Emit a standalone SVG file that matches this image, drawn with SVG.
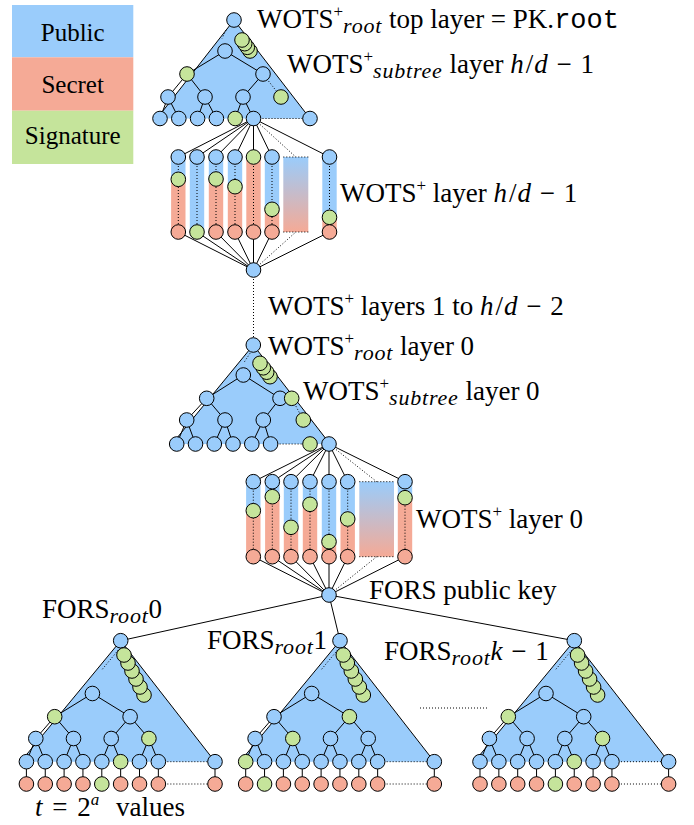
<svg xmlns="http://www.w3.org/2000/svg" width="694" height="825" viewBox="0 0 694 825">
<defs>
<linearGradient id="grad" x1="0" y1="0" x2="0" y2="1">
<stop offset="0" stop-color="#9ACCFB"/>
<stop offset="1" stop-color="#F5AA96"/>
</linearGradient>
<style>
.b{fill:#9ACCFB;stroke:#000;stroke-width:1}
.s{fill:#F5AA96;stroke:#000;stroke-width:1}
.g{fill:#C5E49B;stroke:#000;stroke-width:1}
.bb{fill:#9ACCFB}
.sb{fill:#F5AA96}
.gb{fill:#C5E49B}
.e{stroke:#000;stroke-width:1;fill:none}
.d{stroke:#000;stroke-width:1;stroke-dasharray:1 2;fill:none}
.tri{fill:#9ACCFB}
.t{font-family:"Liberation Serif","Times New Roman",serif;font-size:27px;fill:#000}
.sup{font-size:17px}
.sub{font-size:22px;font-style:italic;letter-spacing:0.8px}
.i{font-style:italic}
.m{font-family:"Liberation Mono",monospace}
.lg{font-family:"Liberation Serif","Times New Roman",serif;font-size:25px;text-anchor:middle}
</style>
</defs>
<rect width="694" height="825" fill="#fff"/>

<g id="legend">
<rect x="12" y="5" width="121.3" height="52.3" class="bb"/>
<rect x="12" y="57.3" width="121.3" height="53.4" class="sb"/>
<rect x="12" y="110.7" width="121.3" height="53.3" class="gb"/>
<text class="lg" x="72.7" y="41">Public</text>
<text class="lg" x="72.7" y="93">Secret</text>
<text class="lg" x="72.7" y="144">Signature</text>
</g>

<g id="triangles">
<polygon class="tri" points="234,20 157,118.5 310,118.5"/>
<polyline class="e" points="157,118.5 234,20 310,118.5"/>
<polygon class="tri" points="253.3,345 172,444 330,444"/>
<polyline class="e" points="172,444 253.3,345 330,444"/>
<polygon class="tri" points="120.7,640.7 20.7,761.7 215,761.7"/>
<polyline class="e" points="20.7,761.7 120.7,640.7 215,761.7"/>
<polygon class="tri" points="340,640.7 240,761.7 434.3,761.7"/>
<polyline class="e" points="240,761.7 340,640.7 434.3,761.7"/>
<polygon class="tri" points="574.3,640.7 474.3,761.7 668.6,761.7"/>
<polyline class="e" points="474.3,761.7 574.3,640.7 668.6,761.7"/>
</g>

<g id="chain-bars">
<rect class="bb" x="171.1" y="157" width="14.4" height="22.3"/><rect class="sb" x="171.1" y="179.3" width="14.4" height="52.7"/>
<rect class="bb" x="189.8" y="157" width="14.4" height="75"/>
<rect class="bb" x="208.8" y="157" width="14.4" height="22"/><rect class="sb" x="208.8" y="179" width="14.4" height="53"/>
<rect class="bb" x="227.8" y="157" width="14.4" height="29.7"/><rect class="sb" x="227.8" y="186.7" width="14.4" height="45.3"/>
<rect class="sb" x="246.3" y="157" width="14.4" height="75"/>
<rect class="bb" x="264.8" y="157" width="14.4" height="52.3"/><rect class="sb" x="264.8" y="209.3" width="14.4" height="22.7"/>
<rect x="283.3" y="157" width="25" height="75" fill="url(#grad)"/>
<rect class="bb" x="322.3" y="157" width="14.4" height="60.3"/><rect class="sb" x="322.3" y="217.3" width="14.4" height="14.7"/>
<rect class="bb" x="246.1" y="481.7" width="14.4" height="29"/><rect class="sb" x="246.1" y="510.7" width="14.4" height="46"/>
<rect class="bb" x="265.1" y="481.7" width="14.4" height="15"/><rect class="sb" x="265.1" y="496.7" width="14.4" height="60"/>
<rect class="bb" x="283.8" y="481.7" width="14.4" height="45.6"/><rect class="sb" x="283.8" y="527.3" width="14.4" height="29.4"/>
<rect class="bb" x="302.8" y="481.7" width="14.4" height="22.6"/><rect class="sb" x="302.8" y="504.3" width="14.4" height="52.4"/>
<rect class="bb" x="321.8" y="481.7" width="14.4" height="60"/><rect class="sb" x="321.8" y="541.7" width="14.4" height="15"/>
<rect class="bb" x="340.5" y="481.7" width="14.4" height="37.3"/><rect class="sb" x="340.5" y="519" width="14.4" height="37.7"/>
<rect x="359.3" y="481.7" width="34.7" height="75" fill="url(#grad)"/>
<rect class="bb" x="397.8" y="481.7" width="14.4" height="16"/><rect class="sb" x="397.8" y="497.7" width="14.4" height="59"/>
</g>

<g id="connectors">
<line class="d" x1="226" y1="30" x2="222" y2="38.5"/>
<line class="e" x1="225" y1="51" x2="187" y2="74"/>
<line class="e" x1="225" y1="51" x2="263" y2="74"/>
<line class="e" x1="187" y1="74" x2="168" y2="97"/>
<line class="e" x1="187" y1="74" x2="205" y2="97"/>
<line class="e" x1="263" y1="74" x2="243" y2="97"/>
<line class="d" x1="263" y1="74" x2="281" y2="97"/>
<line class="e" x1="168" y1="97" x2="160" y2="118.5"/>
<line class="e" x1="168" y1="97" x2="178.8" y2="118.5"/>
<line class="e" x1="205" y1="97" x2="197.6" y2="118.5"/>
<line class="e" x1="205" y1="97" x2="216.4" y2="118.5"/>
<line class="e" x1="243" y1="97" x2="235.2" y2="118.5"/>
<line class="e" x1="243" y1="97" x2="253.5" y2="118.5"/>
<line class="d" x1="253.5" y1="118.5" x2="310" y2="118.5"/>
<line class="e" x1="253.5" y1="118.5" x2="178.3" y2="157"/>
<line class="e" x1="253.5" y1="118.5" x2="197" y2="157"/>
<line class="e" x1="253.5" y1="118.5" x2="216" y2="157"/>
<line class="e" x1="253.5" y1="118.5" x2="235" y2="157"/>
<line class="e" x1="253.5" y1="118.5" x2="253.5" y2="157"/>
<line class="e" x1="253.5" y1="118.5" x2="272" y2="157"/>
<line class="d" x1="253.5" y1="118.5" x2="295.8" y2="157"/>
<line class="e" x1="253.5" y1="118.5" x2="329.5" y2="157"/>
<line class="e" x1="253.5" y1="270" x2="178.3" y2="232"/>
<line class="e" x1="253.5" y1="270" x2="197" y2="232"/>
<line class="e" x1="253.5" y1="270" x2="216" y2="232"/>
<line class="e" x1="253.5" y1="270" x2="235" y2="232"/>
<line class="e" x1="253.5" y1="270" x2="253.5" y2="232"/>
<line class="e" x1="253.5" y1="270" x2="272" y2="232"/>
<line class="d" x1="253.5" y1="270" x2="295.8" y2="232"/>
<line class="e" x1="253.5" y1="270" x2="329.5" y2="232"/>
<line class="d" x1="178.3" y1="157" x2="178.3" y2="232"/>
<line class="d" x1="197" y1="157" x2="197" y2="232"/>
<line class="d" x1="216" y1="157" x2="216" y2="232"/>
<line class="d" x1="235" y1="157" x2="235" y2="232"/>
<line class="d" x1="253.5" y1="157" x2="253.5" y2="232"/>
<line class="d" x1="272" y1="157" x2="272" y2="232"/>
<line class="d" x1="329.5" y1="157" x2="329.5" y2="232"/>
<line class="d" x1="283.3" y1="157" x2="308.3" y2="157"/>
<line class="d" x1="283.3" y1="232" x2="308.3" y2="232"/>
<line class="d" x1="253.5" y1="270" x2="253.5" y2="345"/>
<line class="d" x1="250" y1="353.3" x2="243.5" y2="363.3"/>
<line class="e" x1="243.3" y1="375" x2="206.7" y2="398.3"/>
<line class="e" x1="243.3" y1="375" x2="280" y2="398.3"/>
<line class="e" x1="206.7" y1="398.3" x2="186.7" y2="420"/>
<line class="e" x1="206.7" y1="398.3" x2="225" y2="420"/>
<line class="e" x1="280" y1="398.3" x2="263.3" y2="420"/>
<line class="d" x1="291.7" y1="398.3" x2="303.3" y2="420"/>
<line class="e" x1="186.7" y1="420" x2="176.7" y2="444"/>
<line class="e" x1="186.7" y1="420" x2="195.5" y2="444"/>
<line class="e" x1="225" y1="420" x2="214.3" y2="444"/>
<line class="e" x1="225" y1="420" x2="233" y2="444"/>
<line class="e" x1="263.3" y1="420" x2="251.8" y2="444"/>
<line class="e" x1="263.3" y1="420" x2="270.6" y2="444"/>
<line class="d" x1="270.6" y1="444" x2="310" y2="444"/>
<line class="e" x1="329" y1="444" x2="253.3" y2="481.7"/>
<line class="e" x1="329" y1="444" x2="272.3" y2="481.7"/>
<line class="e" x1="329" y1="444" x2="291" y2="481.7"/>
<line class="e" x1="329" y1="444" x2="310" y2="481.7"/>
<line class="e" x1="329" y1="444" x2="329" y2="481.7"/>
<line class="e" x1="329" y1="444" x2="347.7" y2="481.7"/>
<line class="d" x1="329" y1="444" x2="376.7" y2="481.7"/>
<line class="e" x1="329" y1="444" x2="405" y2="481.7"/>
<line class="e" x1="329" y1="595" x2="253.3" y2="556.7"/>
<line class="e" x1="329" y1="595" x2="272.3" y2="556.7"/>
<line class="e" x1="329" y1="595" x2="291" y2="556.7"/>
<line class="e" x1="329" y1="595" x2="310" y2="556.7"/>
<line class="e" x1="329" y1="595" x2="329" y2="556.7"/>
<line class="e" x1="329" y1="595" x2="347.7" y2="556.7"/>
<line class="d" x1="329" y1="595" x2="376.7" y2="556.7"/>
<line class="e" x1="329" y1="595" x2="405" y2="556.7"/>
<line class="d" x1="253.3" y1="481.7" x2="253.3" y2="556.7"/>
<line class="d" x1="272.3" y1="481.7" x2="272.3" y2="556.7"/>
<line class="d" x1="291" y1="481.7" x2="291" y2="556.7"/>
<line class="d" x1="310" y1="481.7" x2="310" y2="556.7"/>
<line class="d" x1="329" y1="481.7" x2="329" y2="556.7"/>
<line class="d" x1="347.7" y1="481.7" x2="347.7" y2="556.7"/>
<line class="d" x1="405" y1="481.7" x2="405" y2="556.7"/>
<line class="d" x1="359.3" y1="481.7" x2="394" y2="481.7"/>
<line class="d" x1="359.3" y1="556.7" x2="394" y2="556.7"/>
<line class="e" x1="329" y1="595" x2="120.7" y2="640.7"/>
<line class="e" x1="329" y1="595" x2="340" y2="640.7"/>
<line class="e" x1="329" y1="595" x2="574.3" y2="640.7"/>
<line class="d" x1="420" y1="708" x2="488" y2="708"/>
<g transform="translate(120.7,0)">
<line class="d" x1="-2.4" y1="650" x2="-19" y2="670"/>
<line class="e" x1="-28.3" y1="693.5" x2="-66" y2="716.7"/>
<line class="e" x1="-28.3" y1="693.5" x2="9.4" y2="716.7"/>
<line class="e" x1="-66" y1="716.7" x2="-84.9" y2="738.5"/>
<line class="e" x1="-66" y1="716.7" x2="-47.2" y2="738.5"/>
<line class="e" x1="9.4" y1="716.7" x2="-9.5" y2="738.5"/>
<line class="e" x1="9.4" y1="716.7" x2="28.2" y2="738.5"/>
<path class="e" d="M-84.9,738.5L-94.3,761.7M-84.9,738.5L-75.45,761.7M-47.2,738.5L-56.6,761.7M-47.2,738.5L-37.75,761.7M-9.5,738.5L-18.9,761.7M-9.5,738.5L-0.05,761.7M28.2,738.5L18.8,761.7M28.2,738.5L37.65,761.7"/>
<path class="e" d="M-94.3,761.7V784M-75.45,761.7V784M-56.6,761.7V784M-37.75,761.7V784M-18.9,761.7V784M-0.05,761.7V784M18.8,761.7V784M37.65,761.7V784M94.3,761.7V784"/>
<line class="d" x1="37.65" y1="761.7" x2="94.3" y2="761.7"/>
<line class="d" x1="37.65" y1="784" x2="94.3" y2="784"/>
</g>
<g transform="translate(340,0)">
<line class="d" x1="-2.4" y1="650" x2="-19" y2="670"/>
<line class="e" x1="-28.3" y1="693.5" x2="-66" y2="716.7"/>
<line class="e" x1="-28.3" y1="693.5" x2="9.4" y2="716.7"/>
<line class="e" x1="-66" y1="716.7" x2="-84.9" y2="738.5"/>
<line class="e" x1="-66" y1="716.7" x2="-47.2" y2="738.5"/>
<line class="e" x1="9.4" y1="716.7" x2="-9.5" y2="738.5"/>
<line class="e" x1="9.4" y1="716.7" x2="28.2" y2="738.5"/>
<path class="e" d="M-84.9,738.5L-94.3,761.7M-84.9,738.5L-75.45,761.7M-47.2,738.5L-56.6,761.7M-47.2,738.5L-37.75,761.7M-9.5,738.5L-18.9,761.7M-9.5,738.5L-0.05,761.7M28.2,738.5L18.8,761.7M28.2,738.5L37.65,761.7"/>
<path class="e" d="M-94.3,761.7V784M-75.45,761.7V784M-56.6,761.7V784M-37.75,761.7V784M-18.9,761.7V784M-0.05,761.7V784M18.8,761.7V784M37.65,761.7V784M94.3,761.7V784"/>
<line class="d" x1="37.65" y1="761.7" x2="94.3" y2="761.7"/>
<line class="d" x1="37.65" y1="784" x2="94.3" y2="784"/>
</g>
<g transform="translate(574.3,0)">
<line class="d" x1="-2.4" y1="650" x2="-19" y2="670"/>
<line class="e" x1="-28.3" y1="693.5" x2="-66" y2="716.7"/>
<line class="e" x1="-28.3" y1="693.5" x2="9.4" y2="716.7"/>
<line class="e" x1="-66" y1="716.7" x2="-84.9" y2="738.5"/>
<line class="e" x1="-66" y1="716.7" x2="-47.2" y2="738.5"/>
<line class="e" x1="9.4" y1="716.7" x2="-9.5" y2="738.5"/>
<line class="e" x1="9.4" y1="716.7" x2="28.2" y2="738.5"/>
<path class="e" d="M-84.9,738.5L-94.3,761.7M-84.9,738.5L-75.45,761.7M-47.2,738.5L-56.6,761.7M-47.2,738.5L-37.75,761.7M-9.5,738.5L-18.9,761.7M-9.5,738.5L-0.05,761.7M28.2,738.5L18.8,761.7M28.2,738.5L37.65,761.7"/>
<path class="e" d="M-94.3,761.7V784M-75.45,761.7V784M-56.6,761.7V784M-37.75,761.7V784M-18.9,761.7V784M-0.05,761.7V784M18.8,761.7V784M37.65,761.7V784M94.3,761.7V784"/>
<line class="d" x1="37.65" y1="761.7" x2="94.3" y2="761.7"/>
<line class="d" x1="37.65" y1="784" x2="94.3" y2="784"/>
</g>
</g>

<g id="top-tree">
<circle class="b" cx="234" cy="20" r="7.3"/>
<circle class="b" cx="225" cy="51" r="7.3"/>
<circle class="g" cx="250" cy="51" r="7.3"/>
<circle class="g" cx="247.3" cy="47.3" r="7.3"/>
<circle class="g" cx="244.7" cy="43.7" r="7.3"/>
<circle class="g" cx="242" cy="40" r="7.3"/>
<circle class="g" cx="187" cy="74" r="7.3"/>
<circle class="b" cx="263" cy="74" r="7.3"/>
<circle class="b" cx="168" cy="97" r="7.3"/>
<circle class="b" cx="205" cy="97" r="7.3"/>
<circle class="b" cx="243" cy="97" r="7.3"/>
<circle class="g" cx="281" cy="97" r="7.3"/>
<circle class="b" cx="160" cy="118.5" r="7.3"/>
<circle class="b" cx="178.8" cy="118.5" r="7.3"/>
<circle class="b" cx="197.6" cy="118.5" r="7.3"/>
<circle class="b" cx="216.4" cy="118.5" r="7.3"/>
<circle class="g" cx="235.2" cy="118.5" r="7.3"/>
<circle class="b" cx="253.5" cy="118.5" r="7.3"/>
<circle class="b" cx="310" cy="118.5" r="7.3"/>
</g>

<g id="chains-top">
<circle class="b" cx="178.3" cy="157" r="7.3"/><circle class="g" cx="178.3" cy="179.3" r="7.3"/><circle class="s" cx="178.3" cy="232" r="7.3"/>
<circle class="b" cx="197" cy="157" r="7.3"/><circle class="g" cx="197" cy="232" r="7.3"/>
<circle class="b" cx="216" cy="157" r="7.3"/><circle class="g" cx="216" cy="179" r="7.3"/><circle class="s" cx="216" cy="232" r="7.3"/>
<circle class="b" cx="235" cy="157" r="7.3"/><circle class="g" cx="235" cy="186.7" r="7.3"/><circle class="s" cx="235" cy="232" r="7.3"/>
<circle class="g" cx="253.5" cy="157" r="7.3"/><circle class="s" cx="253.5" cy="232" r="7.3"/>
<circle class="b" cx="272" cy="157" r="7.3"/><circle class="g" cx="272" cy="209.3" r="7.3"/><circle class="s" cx="272" cy="232" r="7.3"/>
<circle class="b" cx="329.5" cy="157" r="7.3"/><circle class="g" cx="329.5" cy="217.3" r="7.3"/><circle class="s" cx="329.5" cy="232" r="7.3"/>
<circle class="b" cx="253.5" cy="270" r="7.3"/>
</g>

<g id="layer0-tree">
<circle class="b" cx="253.3" cy="345" r="7.3"/>
<circle class="b" cx="243.3" cy="375" r="7.3"/>
<circle class="g" cx="270" cy="376.7" r="7.3"/>
<circle class="g" cx="266.7" cy="372.2" r="7.3"/>
<circle class="g" cx="263.3" cy="367.8" r="7.3"/>
<circle class="g" cx="260" cy="363.3" r="7.3"/>
<circle class="b" cx="206.7" cy="398.3" r="7.3"/>
<circle class="b" cx="280" cy="398.3" r="7.3"/>
<circle class="g" cx="291.7" cy="398.3" r="7.3"/>
<circle class="b" cx="186.7" cy="420" r="7.3"/>
<circle class="b" cx="225" cy="420" r="7.3"/>
<circle class="b" cx="263.3" cy="420" r="7.3"/>
<circle class="g" cx="303.3" cy="420" r="7.3"/>
<circle class="b" cx="176.7" cy="444" r="7.3"/>
<circle class="b" cx="195.5" cy="444" r="7.3"/>
<circle class="b" cx="214.3" cy="444" r="7.3"/>
<circle class="b" cx="233" cy="444" r="7.3"/>
<circle class="b" cx="251.8" cy="444" r="7.3"/>
<circle class="b" cx="270.6" cy="444" r="7.3"/>
<circle class="g" cx="310" cy="444" r="7.3"/>
<circle class="b" cx="329" cy="444" r="7.3"/>
</g>

<g id="chains-layer0">
<circle class="b" cx="253.3" cy="481.7" r="7.3"/><circle class="g" cx="253.3" cy="510.7" r="7.3"/><circle class="s" cx="253.3" cy="556.7" r="7.3"/>
<circle class="b" cx="272.3" cy="481.7" r="7.3"/><circle class="g" cx="272.3" cy="496.7" r="7.3"/><circle class="s" cx="272.3" cy="556.7" r="7.3"/>
<circle class="b" cx="291" cy="481.7" r="7.3"/><circle class="g" cx="291" cy="527.3" r="7.3"/><circle class="s" cx="291" cy="556.7" r="7.3"/>
<circle class="b" cx="310" cy="481.7" r="7.3"/><circle class="g" cx="310" cy="504.3" r="7.3"/><circle class="s" cx="310" cy="556.7" r="7.3"/>
<circle class="b" cx="329" cy="481.7" r="7.3"/><circle class="g" cx="329" cy="541.7" r="7.3"/><circle class="s" cx="329" cy="556.7" r="7.3"/>
<circle class="b" cx="347.7" cy="481.7" r="7.3"/><circle class="g" cx="347.7" cy="519" r="7.3"/><circle class="s" cx="347.7" cy="556.7" r="7.3"/>
<circle class="b" cx="405" cy="481.7" r="7.3"/><circle class="g" cx="405" cy="497.7" r="7.3"/><circle class="s" cx="405" cy="556.7" r="7.3"/>
</g>

<g id="fors-pk">
<circle class="b" cx="329" cy="595" r="7.3"/>
</g>

<g id="fors-tree-0" transform="translate(120.7,0)">
<circle class="b" cx="0" cy="640.7" r="7.3"/>
<circle class="g" cx="23.3" cy="695" r="7.3"/><circle class="g" cx="19.3" cy="687" r="7.3"/><circle class="g" cx="15.3" cy="679" r="7.3"/><circle class="g" cx="11.3" cy="671" r="7.3"/><circle class="g" cx="7.3" cy="663" r="7.3"/><circle class="g" cx="3.3" cy="655" r="7.3"/>
<circle class="b" cx="-28.3" cy="693.5" r="7.3"/>
<circle class="g" cx="-66" cy="716.7" r="7.3"/><circle class="b" cx="9.4" cy="716.7" r="7.3"/>
<circle class="b" cx="-84.9" cy="738.5" r="7.3"/><circle class="b" cx="-47.2" cy="738.5" r="7.3"/><circle class="b" cx="-9.5" cy="738.5" r="7.3"/><circle class="g" cx="28.2" cy="738.5" r="7.3"/>
<circle class="b" cx="-94.3" cy="761.7" r="7.3"/><circle class="b" cx="-75.45" cy="761.7" r="7.3"/><circle class="b" cx="-56.6" cy="761.7" r="7.3"/><circle class="b" cx="-37.75" cy="761.7" r="7.3"/><circle class="b" cx="-18.9" cy="761.7" r="7.3"/><circle class="g" cx="-0.05" cy="761.7" r="7.3"/><circle class="b" cx="18.8" cy="761.7" r="7.3"/><circle class="b" cx="37.65" cy="761.7" r="7.3"/><circle class="b" cx="94.3" cy="761.7" r="7.3"/>
<circle class="s" cx="-94.3" cy="784" r="7.3"/><circle class="s" cx="-75.45" cy="784" r="7.3"/><circle class="s" cx="-56.6" cy="784" r="7.3"/><circle class="s" cx="-37.75" cy="784" r="7.3"/><circle class="g" cx="-18.9" cy="784" r="7.3"/><circle class="s" cx="-0.05" cy="784" r="7.3"/><circle class="s" cx="18.8" cy="784" r="7.3"/><circle class="s" cx="37.65" cy="784" r="7.3"/><circle class="s" cx="94.3" cy="784" r="7.3"/>
</g>

<g id="fors-tree-1" transform="translate(340,0)">
<circle class="b" cx="0" cy="640.7" r="7.3"/>
<circle class="g" cx="23.3" cy="695" r="7.3"/><circle class="g" cx="19.3" cy="687" r="7.3"/><circle class="g" cx="15.3" cy="679" r="7.3"/><circle class="g" cx="11.3" cy="671" r="7.3"/><circle class="g" cx="7.3" cy="663" r="7.3"/><circle class="g" cx="3.3" cy="655" r="7.3"/>
<circle class="b" cx="-28.3" cy="693.5" r="7.3"/>
<circle class="b" cx="-66" cy="716.7" r="7.3"/><circle class="g" cx="9.4" cy="716.7" r="7.3"/>
<circle class="b" cx="-84.9" cy="738.5" r="7.3"/><circle class="g" cx="-47.2" cy="738.5" r="7.3"/><circle class="b" cx="-9.5" cy="738.5" r="7.3"/><circle class="b" cx="28.2" cy="738.5" r="7.3"/>
<circle class="g" cx="-94.3" cy="761.7" r="7.3"/><circle class="b" cx="-75.45" cy="761.7" r="7.3"/><circle class="b" cx="-56.6" cy="761.7" r="7.3"/><circle class="b" cx="-37.75" cy="761.7" r="7.3"/><circle class="b" cx="-18.9" cy="761.7" r="7.3"/><circle class="b" cx="-0.05" cy="761.7" r="7.3"/><circle class="b" cx="18.8" cy="761.7" r="7.3"/><circle class="b" cx="37.65" cy="761.7" r="7.3"/><circle class="b" cx="94.3" cy="761.7" r="7.3"/>
<circle class="s" cx="-94.3" cy="784" r="7.3"/><circle class="g" cx="-75.45" cy="784" r="7.3"/><circle class="s" cx="-56.6" cy="784" r="7.3"/><circle class="s" cx="-37.75" cy="784" r="7.3"/><circle class="s" cx="-18.9" cy="784" r="7.3"/><circle class="s" cx="-0.05" cy="784" r="7.3"/><circle class="s" cx="18.8" cy="784" r="7.3"/><circle class="s" cx="37.65" cy="784" r="7.3"/><circle class="s" cx="94.3" cy="784" r="7.3"/>
</g>

<g id="fors-tree-k-1" transform="translate(574.3,0)">
<circle class="b" cx="0" cy="640.7" r="7.3"/>
<circle class="g" cx="23.3" cy="695" r="7.3"/><circle class="g" cx="19.3" cy="687" r="7.3"/><circle class="g" cx="15.3" cy="679" r="7.3"/><circle class="g" cx="11.3" cy="671" r="7.3"/><circle class="g" cx="7.3" cy="663" r="7.3"/><circle class="g" cx="3.3" cy="655" r="7.3"/>
<circle class="b" cx="-28.3" cy="693.5" r="7.3"/>
<circle class="g" cx="-66" cy="716.7" r="7.3"/><circle class="b" cx="9.4" cy="716.7" r="7.3"/>
<circle class="b" cx="-84.9" cy="738.5" r="7.3"/><circle class="b" cx="-47.2" cy="738.5" r="7.3"/><circle class="b" cx="-9.5" cy="738.5" r="7.3"/><circle class="g" cx="28.2" cy="738.5" r="7.3"/>
<circle class="b" cx="-94.3" cy="761.7" r="7.3"/><circle class="b" cx="-75.45" cy="761.7" r="7.3"/><circle class="b" cx="-56.6" cy="761.7" r="7.3"/><circle class="b" cx="-37.75" cy="761.7" r="7.3"/><circle class="b" cx="-18.9" cy="761.7" r="7.3"/><circle class="g" cx="-0.05" cy="761.7" r="7.3"/><circle class="b" cx="18.8" cy="761.7" r="7.3"/><circle class="b" cx="37.65" cy="761.7" r="7.3"/><circle class="b" cx="94.3" cy="761.7" r="7.3"/>
<circle class="s" cx="-94.3" cy="784" r="7.3"/><circle class="s" cx="-75.45" cy="784" r="7.3"/><circle class="s" cx="-56.6" cy="784" r="7.3"/><circle class="s" cx="-37.75" cy="784" r="7.3"/><circle class="g" cx="-18.9" cy="784" r="7.3"/><circle class="s" cx="-0.05" cy="784" r="7.3"/><circle class="s" cx="18.8" cy="784" r="7.3"/><circle class="s" cx="37.65" cy="784" r="7.3"/><circle class="s" cx="94.3" cy="784" r="7.3"/>
</g>

<g id="labels">
<text class="t" x="257" y="28">WOTS<tspan class="sup" dy="-11">+</tspan><tspan class="sub" dy="16">root</tspan><tspan dy="-5"> top layer = PK.</tspan><tspan class="m">root</tspan></text>
<text class="t" x="287" y="73">WOTS<tspan class="sup" dy="-11">+</tspan><tspan class="sub" dy="16">subtree</tspan><tspan dy="-5"> layer </tspan><tspan class="i">h</tspan><tspan dx="2">/</tspan><tspan class="i" dx="1">d</tspan><tspan dx="2"> − </tspan><tspan dx="2">1</tspan></text>
<text class="t" x="340" y="202">WOTS<tspan class="sup" dy="-11">+</tspan><tspan dy="11"> layer </tspan><tspan class="i">h</tspan><tspan dx="2">/</tspan><tspan class="i" dx="1">d</tspan><tspan dx="2"> − </tspan><tspan dx="2">1</tspan></text>
<text class="t" x="268" y="315">WOTS<tspan class="sup" dy="-11">+</tspan><tspan dy="11"> layers 1 to </tspan><tspan class="i">h</tspan><tspan dx="2">/</tspan><tspan class="i" dx="1">d</tspan><tspan dx="2"> − </tspan><tspan dx="2">2</tspan></text>
<text class="t" x="268" y="355">WOTS<tspan class="sup" dy="-11">+</tspan><tspan class="sub" dy="16">root</tspan><tspan dy="-5"> layer 0</tspan></text>
<text class="t" x="303" y="400">WOTS<tspan class="sup" dy="-11">+</tspan><tspan class="sub" dy="16">subtree</tspan><tspan dy="-5"> layer 0</tspan></text>
<text class="t" x="416" y="528">WOTS<tspan class="sup" dy="-11">+</tspan><tspan dy="11"> layer 0</tspan></text>
<text class="t" x="369" y="599">FORS public key</text>
<text class="t" x="42" y="618">FORS<tspan class="sub" dy="5">root</tspan><tspan dy="-5">0</tspan></text>
<text class="t" x="207" y="649">FORS<tspan class="sub" dy="5">root</tspan><tspan dy="-5">1</tspan></text>
<text class="t" x="384" y="660">FORS<tspan class="sub" dy="5">root</tspan><tspan class="i" dy="-5">k</tspan><tspan dx="2"> − </tspan><tspan dx="2">1</tspan></text>
<text class="t" x="35" y="816"><tspan class="i">t</tspan><tspan dx="3"> = </tspan><tspan dx="3">2</tspan><tspan class="sup i" dy="-11">a</tspan><tspan dy="11" dx="10"> values</tspan></text>
</g>
</svg>
